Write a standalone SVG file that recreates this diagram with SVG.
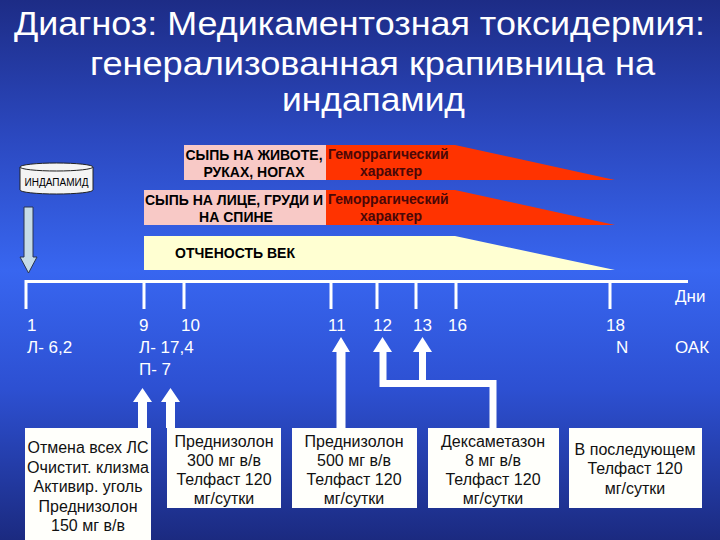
<svg xmlns="http://www.w3.org/2000/svg" width="720" height="540" viewBox="0 0 720 540">
  <defs>
    <linearGradient id="bg" x1="0" y1="0" x2="0" y2="1">
      <stop offset="0" stop-color="#1d2c86"/>
      <stop offset="0.25" stop-color="#2b48bf"/>
      <stop offset="0.5" stop-color="#3866f0"/>
      <stop offset="0.72" stop-color="#2d50d2"/>
      <stop offset="1" stop-color="#1b2a80"/>
    </linearGradient>
    <style>
      .title { font-family: "Liberation Sans", Arial, sans-serif; font-size: 33px; fill: #ffffff; }
      .bar { font-family: "Liberation Sans", Arial, sans-serif; font-size: 14px; font-weight: bold; fill: #000000; text-anchor: middle; }
      .hem { font-family: "Liberation Sans", Arial, sans-serif; font-size: 14px; font-weight: bold; fill: #4a0808; }
      .lbl { font-family: "Liberation Sans", Arial, sans-serif; font-size: 17px; fill: #ffffff; }
      .box { fill: #fffffb; }
      .bt { font-family: "Liberation Sans", Arial, sans-serif; font-size: 16px; fill: #111111; text-anchor: middle; }
      .pink { fill: #f8c9c6; }
      .red { fill: #ff3300; }
      .tl { stroke: #ffffff; stroke-width: 3; fill: none; }
      .arr { fill: #ffffff; }
      .conn { stroke: #ffffff; stroke-width: 7; fill: none; stroke-linejoin: miter; }
    </style>
  </defs>
  <rect x="0" y="0" width="720" height="540" fill="url(#bg)"/>

  <g id="title">
    <text class="title" x="14" y="35" textLength="691" lengthAdjust="spacingAndGlyphs">Диагноз: Медикаментозная токсидермия:</text>
    <text class="title" x="90" y="75" textLength="565" lengthAdjust="spacingAndGlyphs">генерализованная крапивница на</text>
    <text class="title" x="282" y="111" textLength="183" lengthAdjust="spacingAndGlyphs">индапамид</text>
  </g>

  <g id="indapamid">
    <path d="M20,167 V190 A36.5,4 0 0 0 93,190 V167" fill="#f4f4f4" stroke="#222" stroke-width="1"/>
    <ellipse cx="56.5" cy="167" rx="36.5" ry="4" fill="#f4f4f4" stroke="#222" stroke-width="1"/>
    <text x="56.5" y="186" font-family="'Liberation Sans', Arial, sans-serif" font-size="10" text-anchor="middle" fill="#000">ИНДАПАМИД</text>
  </g>

  <g id="down-arrow">
    <polygon points="24,207 33,207 33,257 37,257 28.5,273 20,257 24,257" fill="#c5dbe8" stroke="#2a3550" stroke-width="1"/>
  </g>

  <g id="rash-body">
    <rect class="pink" x="184" y="145" width="142" height="35"/>
    <polygon class="red" points="326,145 455,145 615,180 326,180"/>
    <text class="bar" x="254" y="160">СЫПЬ НА ЖИВОТЕ,</text>
    <text class="bar" x="254" y="177">РУКАХ, НОГАХ</text>
    <text class="hem" x="328" y="159">Геморрагический</text>
    <text class="hem" x="391" y="176" text-anchor="middle">характер</text>
  </g>

  <g id="rash-face">
    <rect class="pink" x="144" y="190" width="182" height="35"/>
    <polygon class="red" points="326,190 455,190 615,225 326,225"/>
    <text class="bar" x="234" y="205">СЫПЬ НА ЛИЦЕ, ГРУДИ И</text>
    <text class="bar" x="236" y="222">НА СПИНЕ</text>
    <text class="hem" x="328" y="204">Геморрагический</text>
    <text class="hem" x="391" y="221" text-anchor="middle">характер</text>
  </g>

  <g id="eyelid-edema">
    <polygon points="144,236 455,236 615,270 144,270" fill="#ffffd2"/>
    <text class="bar" x="235" y="258">ОТЧЕНОСТЬ ВЕК</text>
  </g>

  <g id="timeline">
    <path class="tl" d="M26,309 V281.5 H688"/>
    <path class="tl" d="M144,281 V309 M184,281 V309 M331,281 V309 M377,281 V309 M416,281 V309 M456,281 V309 M610,281 V309"/>
    <text class="lbl" x="675" y="302">Дни</text>
    <text class="lbl" x="27" y="331">1</text>
    <text class="lbl" x="27" y="353">Л- 6,2</text>
    <text class="lbl" x="139" y="331">9</text>
    <text class="lbl" x="181" y="331">10</text>
    <text class="lbl" x="139" y="353">Л- 17,4</text>
    <text class="lbl" x="139" y="375">П- 7</text>
    <text class="lbl" x="328" y="331">11</text>
    <text class="lbl" x="373" y="331">12</text>
    <text class="lbl" x="413" y="331">13</text>
    <text class="lbl" x="448" y="331">16</text>
    <text class="lbl" x="606" y="331">18</text>
    <text class="lbl" x="616" y="353">N</text>
    <text class="lbl" x="675" y="353">ОАК</text>
  </g>

  <g id="connectors">
    <polygon class="arr" points="142.5,388 152,402 147,402 147,428 138,428 138,402 133,402"/>
    <polygon class="arr" points="170.5,388 180,402 175,402 175,428 166,428 166,402 161,402"/>
    <polygon class="arr" points="341,337 350,352 345.5,352 345.5,428 336.5,428 336.5,352 332,352"/>
    <polygon class="arr" points="382.5,337 392,352 373,352"/>
    <polygon class="arr" points="422.5,337 432,352 413,352"/>
    <path class="conn" d="M383,350 V383.5 H493 V428 M422.5,350 V383.5"/>
  </g>

  <g id="box1">
    <rect class="box" x="25" y="428" width="126" height="115"/>
    <text class="bt" x="88" y="453" textLength="121" lengthAdjust="spacingAndGlyphs">Отмена всех ЛС</text>
    <text class="bt" x="88" y="473" textLength="122" lengthAdjust="spacingAndGlyphs">Очистит. клизма</text>
    <text class="bt" x="88" y="492">Активир. уголь</text>
    <text class="bt" x="88" y="512">Преднизолон</text>
    <text class="bt" x="88" y="531">150 мг в/в</text>
  </g>

  <g id="box2">
    <rect class="box" x="167" y="428" width="114" height="80"/>
    <text class="bt" x="224" y="447">Преднизолон</text>
    <text class="bt" x="224" y="466">300 мг в/в</text>
    <text class="bt" x="224" y="485">Телфаст 120</text>
    <text class="bt" x="224" y="504">мг/сутки</text>
  </g>

  <g id="box3">
    <rect class="box" x="292" y="428" width="125" height="80"/>
    <text class="bt" x="354" y="447">Преднизолон</text>
    <text class="bt" x="354" y="466">500 мг в/в</text>
    <text class="bt" x="354" y="485">Телфаст 120</text>
    <text class="bt" x="354" y="504">мг/сутки</text>
  </g>

  <g id="box4">
    <rect class="box" x="428" y="428" width="131" height="80"/>
    <text class="bt" x="493" y="447">Дексаметазон</text>
    <text class="bt" x="493" y="466">8 мг в/в</text>
    <text class="bt" x="493" y="485">Телфаст 120</text>
    <text class="bt" x="493" y="504">мг/сутки</text>
  </g>

  <g id="box5">
    <rect class="box" x="569" y="428" width="133" height="80"/>
    <text class="bt" x="635" y="455">В последующем</text>
    <text class="bt" x="635" y="474">Телфаст 120</text>
    <text class="bt" x="635" y="494">мг/сутки</text>
  </g>
</svg>
